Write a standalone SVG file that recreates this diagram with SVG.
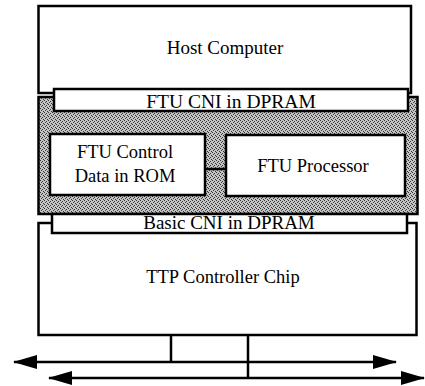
<svg xmlns="http://www.w3.org/2000/svg" width="425" height="386" viewBox="0 0 425 386">
<style>
.box{fill:#fff;stroke:#000;stroke-width:2.5}
.lbl{font-family:"Liberation Serif","Times New Roman",serif;fill:#000;text-anchor:middle}
.wire{stroke:#000;stroke-width:2.5;fill:none}
</style>
<defs>
<pattern id="dither" width="4" height="4" patternUnits="userSpaceOnUse">
<rect width="4" height="4" fill="#c4c4c4"/>
<rect x="0" y="0" width="1" height="1" fill="#333"/>
<rect x="2" y="1" width="1" height="1" fill="#333"/>
<rect x="1" y="2" width="1" height="1" fill="#444"/>
<rect x="3" y="3" width="1" height="1" fill="#333"/>
</pattern>
<marker id="ah" markerUnits="userSpaceOnUse" markerWidth="24" markerHeight="14" refX="23" refY="7" orient="auto-start-reverse">
<path d="M0,0 L24,7 L0,14 z" fill="#000"/>
</marker>
</defs>
<g id="host">
<rect class="box" x="38.5" y="6" width="372.5" height="87"/>
<text class="lbl" x="225" y="54" font-size="19">Host Computer</text>
</g>
<g id="ftu-unit">
<rect x="38.5" y="97" width="379" height="117" fill="url(#dither)" stroke="#000" stroke-width="2.5"/>
</g>
<g id="ftu-cni">
<rect class="box" x="54" y="89" width="354" height="22"/>
<text class="lbl" x="231" y="108" font-size="19.5">FTU CNI in DPRAM</text>
</g>
<g id="ftu-rom">
<rect class="box" x="50" y="134" width="155" height="61"/>
<text class="lbl" x="125" y="158" font-size="18.5">FTU Control</text>
<text class="lbl" x="125" y="182" font-size="18.5">Data in ROM</text>
</g>
<g id="ftu-proc">
<rect class="box" x="226" y="135" width="179" height="61"/>
<text class="lbl" x="313" y="172" font-size="18.5">FTU Processor</text>
</g>
<g id="ttp">
<rect class="box" x="38.5" y="223" width="378" height="112"/>
<text class="lbl" x="223" y="283" font-size="18.5">TTP Controller Chip</text>
</g>
<g id="basic-cni">
<rect class="box" x="52" y="214" width="355" height="19"/>
<text class="lbl" x="229" y="229" font-size="19">Basic CNI in DPRAM</text>
</g>
<g id="connectors">
<line class="wire" x1="205" y1="169" x2="226" y2="169"/>
<line class="wire" x1="171" y1="335" x2="171" y2="362"/>
<line class="wire" x1="248" y1="335" x2="248" y2="378"/>
<line class="wire" x1="14" y1="362" x2="396" y2="362" marker-start="url(#ah)" marker-end="url(#ah)"/>
<line class="wire" x1="49" y1="378" x2="424" y2="378" marker-start="url(#ah)" marker-end="url(#ah)"/>
</g>
</svg>
